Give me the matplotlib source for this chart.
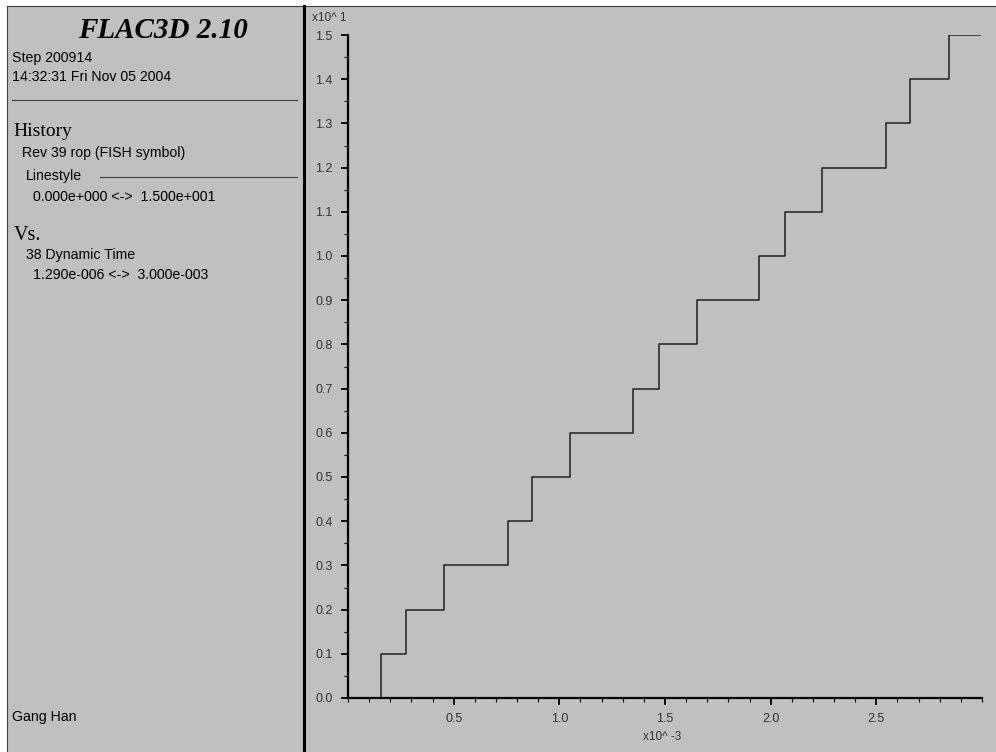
import matplotlib
matplotlib.use('Agg')
import matplotlib.pyplot as plt
from matplotlib.patches import Rectangle
from matplotlib.lines import Line2D
from matplotlib.ticker import MultipleLocator

# history data: dynamic time (x10^-3) vs rop (FISH symbol)
time_ms = [0.0013, 0.155, 0.274, 0.453, 0.755, 0.873, 1.052, 1.350, 1.470,
           1.650, 1.945, 2.066, 2.245, 2.545, 2.660, 2.845, 2.990]
rop = [0, 1, 2, 3, 4, 5, 6, 7, 8, 9, 10, 11, 12, 13, 14, 15, 15]
x_ticks = [0.5, 1.0, 1.5, 2.0, 2.5]

W, H = 996, 752
BG = '#c0c0c0'
SANS = 'Liberation Sans'
SERIF = 'Liberation Serif'


def fx(px):
    return px / W


def fy(py):
    return 1 - py / H


fig = plt.figure(figsize=(W / 100, H / 100), dpi=100, facecolor='white')

# gray panel with dark frame on top/left, divider between text and plot
fig.add_artist(Rectangle((fx(7), 0), 1 - fx(7), fy(6), facecolor=BG,
                         edgecolor='none', zorder=-10))
fig.add_artist(Line2D([fx(7), 1], [fy(6), fy(6)], color='#404040', lw=0.8))
fig.add_artist(Line2D([fx(7), fx(7)], [0, fy(6)], color='#404040', lw=0.8))
fig.add_artist(Line2D([fx(303.5), fx(303.5)], [0, fy(6)], color='black', lw=2.2))

# left info panel
fs = 10.2
fig.text(fx(163), fy(31), 'FLAC3D 2.10', family=SERIF, fontsize=21,
         weight='bold', style='italic', ha='center', va='center')
fig.text(fx(12), fy(58), 'Step 200914', family=SANS, fontsize=fs, va='center')
fig.text(fx(12), fy(77), '14:32:31 Fri Nov 05 2004', family=SANS, fontsize=fs, va='center')
fig.add_artist(Line2D([fx(12), fx(297)], [fy(100), fy(100)], color='#404040', lw=0.8))
fig.text(fx(13), fy(131), 'History', family=SERIF, fontsize=14, va='center')
fig.text(fx(22), fy(153), 'Rev 39 rop (FISH symbol)', family=SANS, fontsize=fs, va='center')
fig.text(fx(26), fy(176), 'Linestyle', family=SANS, fontsize=fs, va='center')
fig.add_artist(Line2D([fx(100), fx(297)], [fy(177), fy(177)], color='#404040', lw=0.8))
fig.text(fx(33), fy(197), '0.000e+000 <->  1.500e+001', family=SANS, fontsize=fs, va='center')
fig.text(fx(14), fy(236), 'Vs.', family=SERIF, fontsize=14.5, va='center')
fig.text(fx(26), fy(255), '38 Dynamic Time', family=SANS, fontsize=fs, va='center')
fig.text(fx(33), fy(275), '1.290e-006 <->  3.000e-003', family=SANS, fontsize=fs, va='center')
fig.text(fx(12), fy(717), 'Gang Han', family=SANS, fontsize=fs, va='center')

# plot area
ax = fig.add_axes([fx(348), fy(698), fx(982) - fx(348), fy(35) - fy(698)])
ax.patch.set_alpha(0)
ax.step(time_ms, [r / 10 for r in rop], where='post', color='#202020', lw=1.1)
ax.set_xlim(0, 3.0)
ax.set_ylim(0, 1.5)

for s in ['top', 'right']:
    ax.spines[s].set_visible(False)
for s in ['left', 'bottom']:
    ax.spines[s].set_linewidth(1.6)
    ax.spines[s].set_color('black')

ax.set_xticks(x_ticks)
ax.set_xticklabels([f'{v:.1f}' for v in x_ticks])
ax.xaxis.set_minor_locator(MultipleLocator(0.1))
ax.yaxis.set_major_locator(MultipleLocator(0.1))
ax.yaxis.set_minor_locator(MultipleLocator(0.05))
ax.yaxis.set_major_formatter(plt.FuncFormatter(lambda v, p: f'{v:.1f}'))
ax.tick_params(which='major', length=5, width=1.3, color='black',
               labelsize=9, labelcolor='#333333', pad=6)
ax.tick_params(which='minor', length=3, width=0.8, color='black')
for lab in ax.get_xticklabels() + ax.get_yticklabels():
    lab.set_family(SANS)

fig.text(fx(312), fy(18), 'x10^ 1', family=SANS, fontsize=8.5, color='#333333', va='center')
fig.text(fx(643), fy(737), 'x10^ -3', family=SANS, fontsize=8.5, color='#333333', va='center')

fig.savefig('out.png', dpi=100, facecolor='white')
